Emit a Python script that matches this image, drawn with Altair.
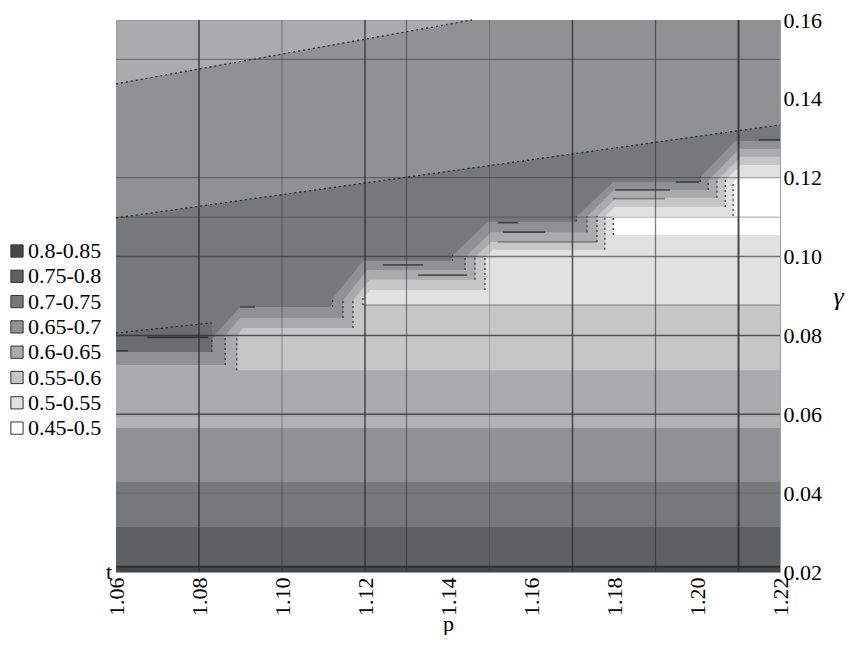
import altair as alt
import pandas as pd

# ---------------- data ----------------
levels = ["0.8-0.85", "0.75-0.8", "0.7-0.75", "0.65-0.7",
          "0.6-0.65", "0.55-0.6", "0.5-0.55", "0.45-0.5"]
level_colors = ["#45484a", "#5e6163", "#76797b", "#8f9192",
                "#a9abac", "#c5c7c7", "#e0e1e0", "#ffffff"]

x_ticks = [1.06, 1.08, 1.10, 1.12, 1.14, 1.16, 1.18, 1.20, 1.22]
y_ticks = [0.02, 0.04, 0.06, 0.08, 0.10, 0.12, 0.14, 0.16]

# dotted contour lines in the upper-left part
c1_p = [1.06, 1.1458, 1.22]
c1_g = [0.1438, 0.16, 0.16]
c2_p = [1.06, 1.22]
c2_g = [0.1098, 0.1334]
cL_p = [1.06, 1.0831]
cL_g = [0.0806, 0.0832]

# stepped contours (upper boundaries of the nested light regions)
s1_p = [1.06, 1.0831, 1.0834, 1.0899, 1.1120, 1.1123, 1.1195, 1.1410, 1.1412,
        1.1496, 1.1708, 1.1711, 1.1798, 1.2007, 1.2010, 1.2092, 1.22]
s1_g = [0.0758, 0.0758, 0.0796, 0.0872, 0.0872, 0.0895, 0.0989, 0.0989, 0.1004,
        0.1088, 0.1088, 0.1103, 0.1189, 0.1189, 0.1204, 0.1293, 0.1293]

s2_p = [1.06, 1.0863, 1.0864, 1.0899, 1.1147, 1.1148, 1.1205, 1.1441, 1.1442,
        1.1504, 1.1735, 1.1736, 1.1800, 1.2027, 1.2028, 1.2101, 1.22]
s2_g = [0.0725, 0.0725, 0.0801, 0.0844, 0.0844, 0.0890, 0.0966, 0.0966, 0.0999,
        0.1062, 0.1062, 0.1103, 0.1169, 0.1169, 0.1194, 0.1273, 0.1273]

s3_p = [1.0891, 1.0893, 1.0906, 1.1171, 1.1172, 1.1211, 1.1465, 1.1466,
        1.1505, 1.1759, 1.1760, 1.1806, 1.2048, 1.2049, 1.2105, 1.22]
s3_g = [0.0712, 0.0801, 0.0819, 0.0819, 0.0890, 0.0941, 0.0941, 0.0999,
        0.1037, 0.1037, 0.1103, 0.1149, 0.1149, 0.1194, 0.1253, 0.1253]
s3_base = 0.0712

s4_p = [1.1195, 1.1196, 1.1212, 1.1489, 1.1490, 1.1508, 1.1778, 1.1779,
        1.1802, 1.2068, 1.2069, 1.2105, 1.22]
s4_g = [0.0877, 0.0895, 0.0915, 0.0915, 0.0999, 0.1017, 0.1017, 0.1103,
        0.1126, 0.1126, 0.1194, 0.1232, 0.1232]
s4_base = 0.0877

s5_p = [1.1798, 1.1799, 1.2087, 1.2088, 1.2100, 1.22]
s5_g = [0.1055, 0.1103, 0.1103, 0.1189, 0.1202, 0.1202]
s5_base = 0.1055

# horizontal bands at the bottom
band_lo = [0.02, 0.0213, 0.0314, 0.0428]
band_hi = [0.0213, 0.0314, 0.0428, 0.0565]
band_lev = ["0.8-0.85", "0.75-0.8", "0.7-0.75", "0.65-0.7"]
strip_lo = [0.0565]
strip_hi = [0.0593]

# dotted risers of the steps
riser_p = [1.0831, 1.0863, 1.0891,
           1.1122, 1.1147, 1.1171, 1.1195,
           1.1411, 1.1441, 1.1465, 1.1489,
           1.1709, 1.1735, 1.1759, 1.1778, 1.1798,
           1.2008, 1.2027, 1.2048, 1.2068, 1.2087]
riser_lo = [0.0758, 0.0725, 0.0712,
            0.0872, 0.0844, 0.0819, 0.0877,
            0.0989, 0.0966, 0.0941, 0.0915,
            0.1088, 0.1062, 0.1037, 0.1017, 0.1055,
            0.1189, 0.1169, 0.1149, 0.1126, 0.1103]
riser_hi = [0.0796, 0.0801, 0.0801,
            0.0895, 0.0890, 0.0890, 0.0895,
            0.1004, 0.0999, 0.0999, 0.0999,
            0.1103, 0.1103, 0.1103, 0.1103, 0.1103,
            0.1204, 0.1194, 0.1194, 0.1194, 0.1189]

# short dark contour fragments
frag_p1 = [1.0602, 1.0675, 1.0899, 1.1243, 1.1328, 1.1520, 1.1533, 1.1520,
           1.1803, 1.1798, 1.1949, 1.2149, 1.1195]
frag_p2 = [1.0629, 1.0822, 1.0935, 1.1340, 1.1446, 1.1569, 1.1634, 1.1759,
           1.1935, 1.1923, 1.2005, 1.22, 1.22]
frag_g = [0.0761, 0.0795, 0.0872, 0.0979, 0.0953, 0.1086, 0.1062, 0.1037,
          0.1169, 0.1147, 0.1189, 0.1296, 0.0877]
frag_op = [0.8, 0.9, 0.7, 0.7, 0.7, 0.8, 0.8, 0.45, 0.8, 0.45, 0.8, 0.8, 0.35]

# grid lines
v_p = [1.08, 1.10, 1.12, 1.13, 1.15, 1.17, 1.19, 1.21]
v_op = [0.85, 0.35, 0.8, 0.55, 0.25, 0.8, 0.6, 0.85]
v_w = [1.5, 1.2, 1.5, 1.2, 1.0, 1.5, 1.3, 2.0]
h_g = [0.15, 0.12, 0.11, 0.10, 0.08, 0.06, 0.04, 0.0213]
h_op = [0.45, 0.45, 0.35, 0.6, 0.75, 0.75, 0.2, 0.9]
h_w = [1.2, 1.2, 1.2, 1.5, 1.5, 1.5, 1.0, 2.0]

# ---------------- chart ----------------
FONT = "Liberation Serif"
xs = alt.Scale(domain=[1.06, 1.22], nice=False, zero=False)
ys = alt.Scale(domain=[0.02, 0.16], nice=False, zero=False)
cs = alt.Scale(domain=levels, range=level_colors)

x_axis = alt.Axis(values=x_ticks, format=".2f", labelAngle=270, labelAlign="right",
                  labelBaseline="middle", labelFont=FONT, labelFontSize=22,
                  labelColor="black", labelPadding=5, ticks=False, tickSize=0,
                  domain=False, grid=False, labelFlush=False, labelOverlap=False,
                  titleFont=FONT, titleFontSize=22, titleFontWeight="normal",
                  titleColor="black", titleY=58, titleBaseline="alphabetic")
y_axis = alt.Axis(values=y_ticks, format=".2f", orient="right", labelFont=FONT,
                  labelFontSize=22, labelColor="black", labelPadding=3, ticks=False,
                  tickSize=0, domain=False, grid=False, labelFlush=False,
                  labelOverlap=False, titleFont=FONT, titleFontSize=26,
                  titleFontWeight="normal", titleFontStyle="italic", titleColor="black",
                  titleAngle=0, titleX=58, titleY=284, titleAlign="center",
                  titleBaseline="alphabetic")
legend = alt.Legend(orient="none", legendX=-110, legendY=220, title=None,
                    labelFont=FONT, labelFontSize=22, labelColor="black",
                    symbolType="square", symbolSize=150, symbolStrokeColor="#333333",
                    symbolStrokeWidth=1, labelOffset=0, rowPadding=3.3, padding=0)


def X(field="p"):
    return alt.X(f"{field}:Q", scale=xs, axis=x_axis, title="p")


def Y(field="g"):
    return alt.Y(f"{field}:Q", scale=ys, axis=y_axis, title="γ")


def color_enc():
    return alt.Color("level:N", scale=cs, legend=legend)


def area_layer(ps, gs, base, level=None, color=None):
    df = pd.DataFrame({"p": ps, "g": gs, "g0": [base] * len(ps)})
    enc = dict(x=X(), y=Y(), y2=alt.Y2("g0:Q"))
    if level is not None:
        df["level"] = level
        enc["color"] = color_enc()
        return alt.Chart(df).mark_area(interpolate="linear", opacity=1).encode(**enc)
    return alt.Chart(df).mark_area(interpolate="linear", opacity=1, color=color).encode(**enc)


layers = []
layers.append(area_layer(c1_p, c1_g, 0.02, level="0.65-0.7"))
layers.append(area_layer(c2_p, c2_g, 0.02, level="0.7-0.75"))
layers.append(area_layer(cL_p, cL_g, 0.02, color="#6b6e70"))
layers.append(area_layer(s1_p, s1_g, 0.02, level="0.65-0.7"))
layers.append(area_layer(s2_p, s2_g, 0.02, level="0.6-0.65"))

bands = pd.DataFrame({"lo": band_lo, "hi": band_hi, "level": band_lev})
layers.append(alt.Chart(bands).mark_rect(opacity=1).encode(
    y=Y("hi"), y2=alt.Y2("lo:Q"), color=color_enc()))
strip = pd.DataFrame({"lo": strip_lo, "hi": strip_hi})
layers.append(alt.Chart(strip).mark_rect(color="#b0b2b3", opacity=1).encode(
    y=Y("hi"), y2=alt.Y2("lo:Q")))

layers.append(area_layer(s3_p, s3_g, s3_base, level="0.55-0.6"))
layers.append(area_layer(s4_p, s4_g, s4_base, level="0.5-0.55"))
layers.append(area_layer(s5_p, s5_g, s5_base, level="0.45-0.5"))

# grid lines
vdf = pd.DataFrame({"p": v_p, "op": v_op, "w": v_w})
layers.append(alt.Chart(vdf).mark_rule(color="#2a2d2f").encode(
    x=X(), opacity=alt.Opacity("op:Q", scale=None),
    strokeWidth=alt.StrokeWidth("w:Q", scale=None)))
hdf = pd.DataFrame({"g": h_g, "op": h_op, "w": h_w})
layers.append(alt.Chart(hdf).mark_rule(color="#2a2d2f").encode(
    y=Y(), opacity=alt.Opacity("op:Q", scale=None),
    strokeWidth=alt.StrokeWidth("w:Q", scale=None)))

# contour fragments
fdf = pd.DataFrame({"p1": frag_p1, "p2": frag_p2, "g": frag_g, "op": frag_op})
layers.append(alt.Chart(fdf).mark_rule(color="#2a2d2f", strokeWidth=1.6).encode(
    x=X("p1"), x2=alt.X2("p2:Q"), y=Y(), opacity=alt.Opacity("op:Q", scale=None)))

# dotted risers
rdf = pd.DataFrame({"p": riser_p, "lo": riser_lo, "hi": riser_hi})
layers.append(alt.Chart(rdf).mark_rule(color="#333333", strokeWidth=1.2,
                                       strokeDash=[2, 3]).encode(
    x=X(), y=Y("lo"), y2=alt.Y2("hi:Q")))

# dotted contour lines
ldf = pd.concat([
    pd.DataFrame({"p": c1_p[:2], "g": c1_g[:2], "line": "c1"}),
    pd.DataFrame({"p": c2_p, "g": c2_g, "line": "c2"}),
    pd.DataFrame({"p": cL_p, "g": cL_g, "line": "cL"}),
])
layers.append(alt.Chart(ldf).mark_line(color="#222222", strokeWidth=1.3,
                                       strokeDash=[2, 3]).encode(
    x=X(), y=Y(), detail="line:N"))

# stray "t" label at the lower left corner
tdf = pd.DataFrame({"p": [1.06], "g": [0.02], "txt": ["t"]})
layers.append(alt.Chart(tdf).mark_text(align="right", baseline="middle", dx=-4,
                                       font=FONT, fontSize=22, color="black").encode(
    x=X(), y=Y(), text="txt:N"))

chart = alt.layer(*layers).properties(
    width=664, height=552,
    padding={"left": 108, "top": 12, "right": 67, "bottom": 63},
    autosize=alt.AutoSizeParams(type="none"),
).configure_view(fill="#a9abac", stroke="#9b9d9e", strokeWidth=1)

chart.save("out.html", embed_options={"renderer": "svg", "actions": False})
